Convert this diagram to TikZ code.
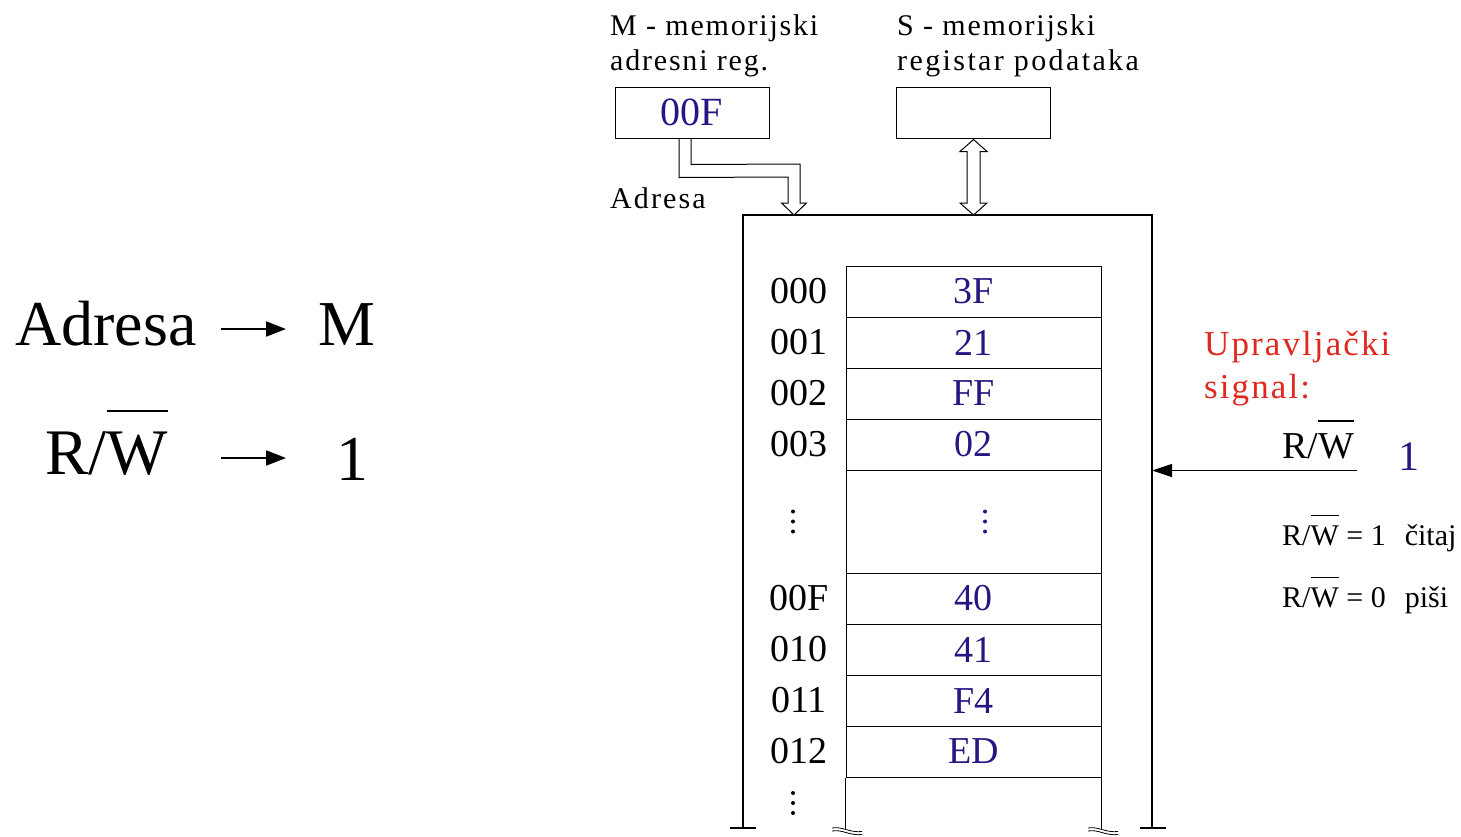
\documentclass[tikz,border=0pt]{standalone}
\usepackage{fontspec}
\setmainfont{Liberation Serif}
\usetikzlibrary{arrows.meta,calc}
\definecolor{valblue}{RGB}{40,20,130}
\definecolor{sigred}{RGB}{225,40,30}
\newcommand\fsz[1]{\fontsize{#1}{#1}\selectfont}
\newcommand\lsp[1]{\addfontfeature{LetterSpace=#1}}
% R/W with a bar over the W
\newcommand\rwbar{R/\setbox0=\hbox{W}\rlap{\rule[0.96em]{\wd0}{0.03em}}\box0}

\begin{document}
\begin{tikzpicture}[x=1pt,y=-1pt,
  txt/.style={inner sep=0pt, anchor=base west},
  reg/.style={draw, line width=1pt, minimum width=154pt, minimum height=51pt, inner sep=0pt},
  cell/.style={draw, line width=1pt, minimum width=255pt, minimum height=51pt, inner sep=0pt, text=valblue, font=\fsz{38}},
  addr/.style={inner sep=0pt, font=\fsz{38}},
  wire/.style={line width=1.2pt},
  hollow/.style={draw, line width=1pt, line join=miter},
  bigarr/.style={line width=2pt, -{Triangle[length=20pt,width=15pt]}},
  sigarr/.style={line width=1.2pt, -{Triangle[length=20pt,width=13pt]}},
  brk/.style={line width=0.8pt},
]
\useasboundingbox (0,0) rectangle (1461,836);

% ---- left: register transfer notation
\node[txt, font=\fsz{64}] (adr) at (15,345) {Adresa};
\node[txt, font=\fsz{64}] (mm) at (318,345) {M};
\node[txt, font=\fsz{65}] (rw) at (45,474) {\rwbar};
\node[txt, font=\fsz{64}] (one) at (336,480) {1};
\coordinate (a1s) at (221,329);
\coordinate (a1e) at (286,329);
\coordinate (a2s) at (221,458);
\coordinate (a2e) at (286,458);
\draw[bigarr] (a1s) -- (a1e);
\draw[bigarr] (a2s) -- (a2e);

% ---- registers
\node[txt, font={\fsz{30}\lsp{6}}] (mlab1) at (610,35) {M - memorijski};
\node[txt, font={\fsz{30}\lsp{6}}] (mlab2) at (610,70) {adresni reg.};
\node[txt, font={\fsz{30}\lsp{6}}] (slab1) at (897,35) {S - memorijski};
\node[txt, font={\fsz{30}\lsp{8}}] (slab2) at (897,70) {registar podataka};
\node[reg, text=valblue, font=\fsz{40}] (mreg) at (692,112.5) {00F};
\node[reg] (sreg) at (973.5,112.5) {};
\node[txt, font={\fsz{30}\lsp{7}}] (adrlab) at (610,208) {Adresa};

% ---- memory frame
\coordinate (ftl) at (743,215);
\coordinate (ftr) at (1152,215);
\draw[wire] (743,828) -- (ftl) -- (ftr) -- (1152,828);
\draw[wire] (730,828) -- (756,828);
\draw[wire] (1140,828) -- (1166,828);

% ---- address bus (hollow arrow) from M into the memory
\draw[hollow] ($(mreg.south)+(-13,0)$) -- ++(0,39) -- (788,177) -- (788,203)
  -- (781.5,203) -- (794,215) -- (806.5,203) -- (800,203) -- (800,164)
  -- ($(mreg.south)+(-1,26)$) -- ($(mreg.south)+(-1,0)$);

% ---- data bus (double hollow arrow) between S and the memory
\draw[hollow, fill=white] ($(sreg.south)+(-6.5,13)$) -- ++(-7,0) -- ($(sreg.south)+(0,1)$)
  -- ($(sreg.south)+(13.5,13)$) -- ++(-7,0) -- ($(ftr)!(sreg.south)!(ftl)+(6.5,-12)$)
  -- ++(7,0) -- ($(ftr)!(sreg.south)!(ftl)$) -- ++(-13.5,-12) -- ++(7,0) -- cycle;

% ---- memory cells
\foreach \i/\y/\a/\v in {0/291.5/000/3F, 1/342.5/001/21, 2/393.5/002/FF, 3/444.5/003/02,
                         5/598.5/00F/40, 6/649.5/010/41, 7/700.5/011/F4, 8/751.5/012/ED} {
  \node[cell] (c\i) at (973.5,\y) {\v};
  \node[addr] (a\i) at (799,\y) {\a};
}
\node[cell, minimum height=103pt] (c4) at (973.5,521.5) {};
\foreach \dy in {-10,0,10} {
  \fill (793,521.5+\dy) circle (2pt);
  \fill[valblue] (985,521.5+\dy) circle (2pt);
  \fill (793,803+\dy) circle (2pt);
}
\draw[line width=1pt] (c8.south west) -- ++(0,51);
\draw[line width=1pt] (c8.south east) -- ++(0,51);
% break marks at the cut ends of the cell column
\foreach \bx in {832,1088} {
  \draw[brk] (\bx,828) .. controls (\bx+10,826) and (\bx+18,833) .. (\bx+30,831.5);
  \draw[brk] (\bx,831) .. controls (\bx+10,829) and (\bx+18,836) .. (\bx+30,834.5);
}

% ---- control signal
\node[txt, font={\fsz{35}\lsp{6}}, text=sigred] (up1) at (1204,355) {Upravljački};
\node[txt, font={\fsz{35}\lsp{6}}, text=sigred] (up2) at (1204,398) {signal:};
\node[txt, font=\fsz{38}] (rw2) at (1282,458) {\rwbar};
\node[txt, font=\fsz{42}, text=valblue] (one2) at (1398,470) {1};
\coordinate (sigs) at (1357,470.5);
\draw[sigarr] (sigs) -- (sigs -| ftr);
\node[txt, font=\fsz{30}] (rd) at (1282,545) {\rwbar\ = 1\hspace{19pt}čitaj};
\node[txt, font=\fsz{30}] (wr) at (1282,607) {\rwbar\ = 0\hspace{19pt}piši};
\end{tikzpicture}
\end{document}
